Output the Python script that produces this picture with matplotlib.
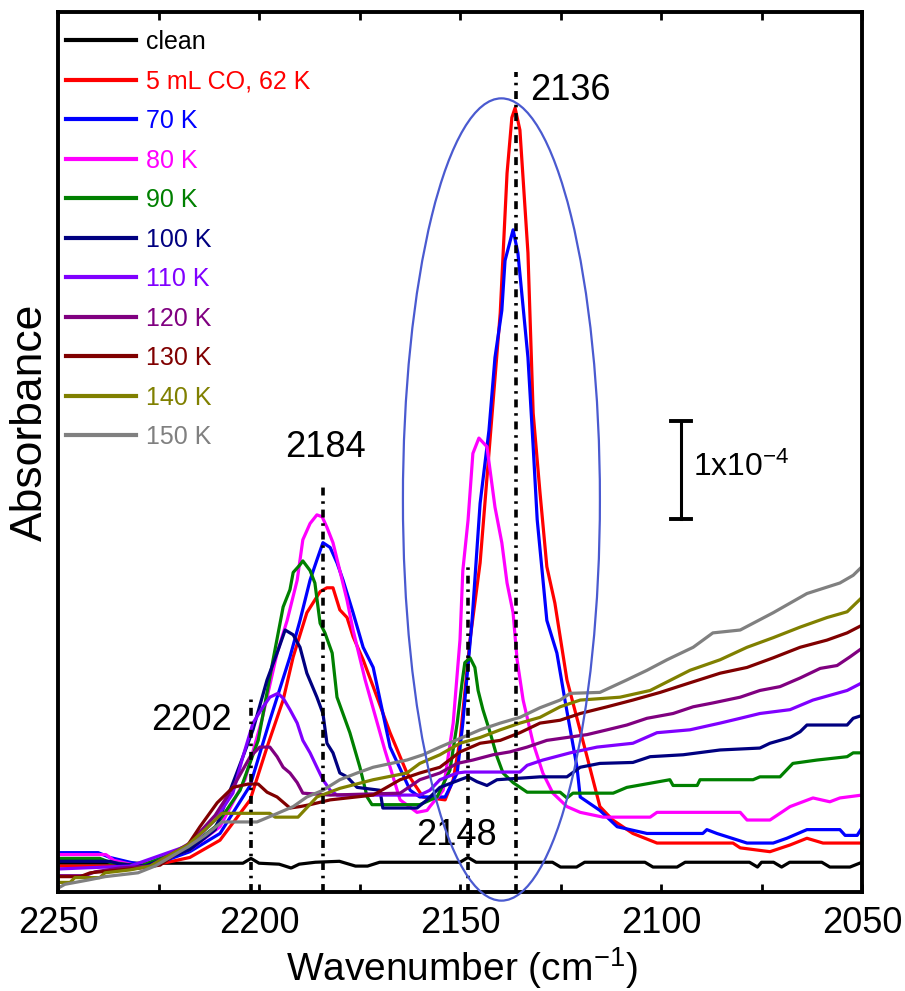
import numpy as np
import matplotlib.pyplot as plt
from matplotlib.patches import Ellipse

plt.rcParams['font.family'] = ['Liberation Sans', 'DejaVu Sans']
plt.rcParams['mathtext.default'] = 'regular'

# absorbance, in units of 1e-5 (offset is arbitrary)
wn_clean = [2250, 2204, 2202, 2200, 2195, 2192, 2190, 2186, 2180, 2176, 2173, 2170, 2150, 2148, 2146,
            2127, 2125, 2121, 2119, 2104, 2102, 2096, 2094, 2078, 2076, 2075, 2072, 2070, 2068, 2060,
            2058, 2053, 2050]
ab_clean = [3.0, 3.0, 3.5, 3.0, 2.9, 2.5, 2.9, 3.1, 3.2, 2.7, 2.7, 3.1, 3.1, 3.6, 3.1,
            3.1, 2.6, 2.6, 3.1, 3.1, 2.6, 2.6, 3.1, 3.1, 2.6, 3.1, 3.1, 2.6, 3.1, 3.1,
            2.6, 2.6, 3.1]

wn_62 = [2250, 2227.1, 2217.2, 2209.7, 2202.2, 2198.0, 2194.0, 2191.5, 2188.1, 2184.8, 2183.1, 2181.6,
         2179.9, 2178.1, 2176.6, 2174.1, 2171.6, 2167.4, 2163.2, 2159.2, 2153.7, 2151.7, 2150.0, 2147.5,
         2145.0, 2143.0, 2140.0, 2138.3, 2137.1, 2136.3, 2135.1, 2133.1, 2131.8, 2130.1, 2128.4, 2126.4,
         2123.4, 2118.4, 2115.2, 2112.0, 2107.0, 2101.0, 2082.1, 2080.3, 2072.9, 2067.9, 2063.7, 2059.7, 2050]
ab_62 = [2.7, 2.7, 3.6, 5.4, 9.6, 15.1, 20.0, 24.5, 29.1, 31.3, 31.7, 31.7,
         29.4, 28.6, 26.6, 24.2, 21.4, 16.6, 12.4, 9.9, 9.6, 11.7, 15.8, 26.3,
         34.3, 44.7, 60.3, 74.9, 80.7, 81.7, 79.4, 66.6, 49.9, 41.6, 33.9, 30.1,
         22.1, 14.1, 8.9, 7.5, 6.1, 5.1, 5.1, 4.6, 4.2, 4.9, 5.6, 5.1, 5.1]

wn_70 = [2250, 2240, 2237.1, 2232.1, 2227.1, 2217.2, 2209.7, 2202.2, 2197.3, 2192.3, 2189.8, 2187.3,
         2185.6, 2184.1, 2182.3, 2180.6, 2179.1, 2176.6, 2174.1, 2171.6, 2167.4, 2162.4, 2160, 2153.7,
         2150.7, 2149.3, 2147.0, 2145.0, 2142.8, 2141.3, 2139.6, 2138.8, 2136.8, 2135.6, 2133.1, 2131.8,
         2130.8, 2128.4, 2125.9, 2123.9, 2120.9, 2120.1, 2115.2, 2110.9, 2103.5, 2089.6, 2088.6, 2086.1,
         2078.6, 2072.1, 2068.7, 2063.7, 2055.5, 2054.2, 2051.2, 2050]
ab_70 = [4.1, 4.1, 3.6, 3.1, 2.7, 4.2, 6.1, 11.1, 17.9, 24.5, 28.3, 32.5,
         34.6, 36.4, 35.9, 34.3, 32.5, 29.1, 25.5, 23.4, 15.1, 10.6, 9.9, 9.9,
         12.4, 17.6, 28.3, 40.5, 48.1, 55.7, 60.6, 65.8, 69.0, 66.6, 55.7, 46.4,
         38.8, 28.3, 24.9, 20.0, 13.0, 9.9, 8.5, 6.8, 6.1, 6.1, 6.5, 6.1,
         5.1, 5.1, 5.6, 6.5, 6.5, 5.9, 5.9, 6.7]

wn_80 = [2250, 2238.1, 2236.1, 2230, 2217.2, 2209.7, 2203.5, 2199.3, 2195.5, 2193.0, 2190.5, 2189.1,
         2187.3, 2185.6, 2184.3, 2183.1, 2181.6, 2179.9, 2178.1, 2176.6, 2173.6, 2168.7, 2164.9, 2160.7,
         2158.2, 2157.5, 2154.2, 2151.7, 2150, 2149.3, 2148.0, 2146.8, 2145.3, 2143.3, 2141.3, 2139.6,
         2138.3, 2136.8, 2135.8, 2134.3, 2131.8, 2129.4, 2126.9, 2123.4, 2120.1, 2114.4, 2102.7, 2101.0,
         2080.3, 2078.6, 2072.9, 2071.1, 2067.9, 2062.2, 2058.0, 2055.5, 2050]
ab_80 = [3.9, 3.9, 3.3, 2.7, 4.4, 6.8, 11.7, 17.9, 24.9, 28.3, 32.5, 36.7,
         38.4, 39.3, 39.1, 38.0, 36.4, 33.5, 30.4, 27.3, 22.1, 14.8, 9.6, 8.3,
         8.5, 8.9, 10.6, 17.6, 26.3, 33.5, 38.75, 45.7, 47.3, 46.4, 40.1, 36.4,
         32.2, 29.1, 24.2, 20.0, 15.5, 12.4, 10.3, 8.9, 8.3, 7.8, 7.8, 8.3,
         8.3, 7.5, 7.5, 8.0, 8.9, 9.8, 9.4, 9.8, 10.1]

wn_90 = [2250, 2239.6, 2237.1, 2229.6, 2217.2, 2210.9, 2204.7, 2200.2, 2196.5, 2194.0, 2192.3, 2191.5,
         2189.8, 2189.1, 2187.3, 2186.1, 2184.8, 2183.6, 2181.8, 2180.6, 2177.4, 2174.9, 2173.1, 2171.9,
         2160, 2155.7, 2152.5, 2150.7, 2149.5, 2148.8, 2147.5, 2146.3, 2145.5, 2144.3, 2142.5, 2140.8,
         2139.3, 2136.8, 2133.3, 2125.1, 2123.4, 2121.9, 2111.9, 2108.5, 2097.8, 2097.0, 2091.0, 2090.3,
         2077.1, 2075.4, 2070.4, 2067.2, 2061.2, 2053.7, 2052.2, 2050]
ab_90 = [3.5, 3.5, 3.1, 2.7, 4.7, 6.8, 10.6, 15.8, 24.2, 29.7, 31.5, 33.3,
         34.1, 34.5, 33.5, 32.2, 28.0, 27.0, 24.9, 20.3, 16.6, 13.0, 9.9, 9.1,
         9.1, 9.9, 12.7, 17.6, 21.8, 23.9, 24.4, 23.4, 21.0, 19.0, 16.6, 14.1,
         12.4, 11.4, 10.4, 10.4, 9.8, 10.3, 10.3, 10.9, 11.7, 11.1, 11.1, 11.7,
         11.7, 12.0, 12.0, 13.4, 13.75, 14.1, 14.5, 14.5]

wn_100 = [2250, 2237.1, 2234.6, 2228.4, 2217.2, 2210.9, 2204.0, 2201.5, 2198.0, 2195.5, 2193.5, 2191.5,
          2189.8, 2188.1, 2185.6, 2184.1, 2183.1, 2181.6, 2179.9, 2178.1, 2175.6, 2169.9, 2169.2, 2160.7,
          2158.2, 2155.0, 2150, 2148.0, 2145.8, 2143.3, 2140.8, 2130.1, 2123.4, 2120.1, 2115.2, 2107.0,
          2102.7, 2094.5, 2085.3, 2075.4, 2072.9, 2067.9, 2065.4, 2063.7, 2053.7, 2052.2, 2050]
ab_100 = [3.2, 3.2, 2.9, 2.7, 4.4, 6.5, 14.1, 16.9, 22.1, 24.9, 27.3, 26.8,
          25.5, 22.8, 20.3, 18.6, 15.5, 14.5, 12.4, 12.0, 10.9, 10.6, 8.75, 8.75,
          9.6, 10.9, 11.7, 12.0, 11.5, 11.1, 11.7, 12.0, 12.0, 13.0, 13.4, 13.5,
          14.1, 14.3, 14.8, 15.0, 15.5, 16.1, 16.7, 17.4, 17.4, 18.1, 18.4]

wn_110 = [2250, 2232.1, 2217.2, 2210.9, 2206.5, 2204.0, 2201.5, 2199.0, 2197.3, 2195.3, 2194.0, 2192.3,
          2190.5, 2189.1, 2187.3, 2185.6, 2184.1, 2182.3, 2180.6, 2160, 2157.5, 2155.0, 2150.7, 2148.8,
          2135.1, 2133.3, 2129.4, 2122.6, 2115.9, 2107.0, 2101.0, 2092.8, 2085.3, 2080.3, 2075.4, 2067.9,
          2062.2, 2053.7, 2050]
ab_110 = [2.4, 2.7, 4.9, 7.5, 10.3, 14.1, 17.6, 19.3, 20.3, 20.7, 20.2, 19.0,
          17.6, 15.8, 14.5, 13.0, 11.7, 10.6, 10.1, 10.1, 10.6, 11.7, 12.4, 12.5,
          12.5, 13.2, 13.75, 14.5, 15.1, 15.5, 16.6, 16.9, 17.6, 18.1, 18.6, 19.0,
          20.0, 21.0, 21.8]

wn_120 = [2250, 2243.3, 2240.8, 2234.6, 2227.1, 2217.2, 2210.9, 2206.5, 2202.2, 2199.8, 2197.3, 2195.5,
          2194.0, 2192.3, 2190.5, 2189.1, 2182.3, 2164.9, 2160, 2155.0, 2150.7, 2146.8, 2141.8, 2137.6,
          2133.3, 2128.4, 2123.4, 2118.4, 2113.4, 2108.5, 2103.5, 2097.0, 2092.0, 2087.1, 2080.3, 2075.4,
          2070.4, 2065.4, 2060.4, 2056.2, 2053.0, 2050]
ab_120 = [1.7, 1.7, 2.1, 2.5, 2.7, 5.1, 8.0, 10.9, 14.1, 15.1, 15.1, 14.1,
          13.0, 12.4, 11.4, 10.3, 10.1, 10.3, 11.7, 12.4, 13.4, 13.75, 14.3, 14.6,
          15.1, 15.8, 16.1, 16.4, 16.9, 17.4, 18.1, 18.6, 19.3, 19.7, 20.3, 21.0,
          21.4, 22.3, 23.3, 23.6, 24.5, 25.4]

wn_130 = [2250, 2244.5, 2242.0, 2234.6, 2229.6, 2224.6, 2217.7, 2214.7, 2210.4, 2206.5, 2202.7, 2200.2,
          2198.0, 2195.5, 2192.3, 2189.8, 2187.3, 2182.3, 2171.6, 2164.9, 2160, 2155.0, 2150, 2145.0,
          2140.0, 2135.1, 2130.1, 2125.1, 2120.1, 2113.4, 2107.0, 2100.2, 2092.8, 2085.3, 2078.6, 2072.1,
          2065.4, 2058.7, 2053.7, 2050]
ab_130 = [1.6, 1.6, 2.0, 2.3, 2.5, 2.8, 4.9, 6.8, 9.3, 10.9, 11.25, 11.25,
          10.4, 9.9, 8.75, 8.9, 9.1, 9.6, 10.1, 11.7, 12.4, 13.0, 14.6, 15.5,
          15.8, 16.6, 17.6, 17.9, 18.6, 19.3, 20.0, 20.8, 21.8, 22.8, 23.4, 24.4,
          25.5, 26.25, 27.0, 27.8]

wn_140 = [2250, 2247.0, 2245.8, 2239.6, 2238.3, 2232.1, 2227.1, 2217.7, 2213.4, 2209.2, 2197.3, 2196.0,
          2190.3, 2185.6, 2179.9, 2171.6, 2163.2, 2160, 2155.0, 2150, 2145.0, 2140.0, 2135.1, 2130.1,
          2125.1, 2120.1, 2110.2, 2102.7, 2092.8, 2085.3, 2078.6, 2072.1, 2065.4, 2058.7, 2053.7, 2050]
ab_140 = [1.0, 1.0, 1.5, 1.5, 2.0, 2.3, 2.7, 4.9, 6.5, 8.2, 8.2, 7.8,
          7.8, 9.9, 10.8, 11.7, 12.4, 13.4, 14.3, 15.5, 16.1, 16.9, 17.6, 18.2,
          19.3, 20.0, 20.3, 21.0, 23.1, 24.2, 25.5, 26.5, 27.6, 28.6, 29.2, 30.7]

wn_150 = [2250, 2248.3, 2242.5, 2238.3, 2230.1, 2225.9, 2217.7, 2213.4, 2209.2, 2200.5, 2196.5, 2191.5,
          2188.1, 2184.1, 2179.9, 2175.6, 2171.6, 2163.2, 2159.2, 2155.0, 2150, 2145.0, 2140.0, 2135.1,
          2130.1, 2125.1, 2122.6, 2115.2, 2108.5, 2103.5, 2098.5, 2092.0, 2087.1, 2080.3, 2072.1, 2063.7,
          2055.5, 2052.2, 2050]
ab_150 = [0.4, 0.8, 1.25, 1.6, 2.0, 2.7, 4.7, 5.9, 7.3, 7.3, 8.0, 8.9,
          9.9, 10.6, 11.7, 12.4, 13.0, 13.75, 14.3, 15.1, 16.0, 16.9, 17.6, 18.2,
          19.2, 20.0, 20.7, 20.8, 22.1, 23.1, 24.2, 25.5, 27.0, 27.3, 29.1, 31.1,
          32.2, 33.0, 33.9]

labels = ['clean', '5 mL CO, 62 K', '70 K', '80 K', '90 K', '100 K', '110 K', '120 K', '130 K', '140 K', '150 K']
colors = ['#000000', '#ff0000', '#0000ff', '#ff00ff', '#008000', '#000080', '#8000ff', '#800080', '#800000', '#808000', '#808080']
wns = [wn_clean, wn_62, wn_70, wn_80, wn_90, wn_100, wn_110, wn_120, wn_130, wn_140, wn_150]
abs_ = [ab_clean, ab_62, ab_70, ab_80, ab_90, ab_100, ab_110, ab_120, ab_130, ab_140, ab_150]

peaks = [2202, 2184, 2148, 2136]
peak_tops = [20.3, 42.6, 34.3, 85.4]

fig = plt.figure(figsize=(9.05, 9.91), dpi=100)
ax = fig.add_axes([0.0641, 0.0999, 0.8884, 0.888])

for wn, ab, c, lab in zip(wns, abs_, colors, labels):
    ax.plot(wn, ab, color=c, lw=2.3, label=lab)

# dotted markers at band positions
for p, t in zip(peaks, peak_tops):
    ax.plot([p, p], [0, t], color='k', lw=2.6, ls=(0, (2.2, 1.6, 0.7, 1.6)), zorder=5)

ax.text(2132.6, 83.5, '2136', fontsize=26, ha='left', va='center')
ax.text(2183.6, 46.3, '2184', fontsize=26, ha='center', va='center')
ax.text(2206.7, 17.9, '2202', fontsize=26, ha='right', va='center')
ax.text(2151.0, 5.9, '2148', fontsize=26, ha='center', va='center')

ax.add_patch(Ellipse((2139.7, 40.9), 49, 83.6, fill=False, ec='#4a5ad0', lw=1.6, clip_on=False, zorder=6))

# scale bar 1e-4
sx, y0, y1 = 2095.0, 38.85, 49.06
ax.plot([sx, sx], [y0, y1], color='k', lw=2.2)
ax.plot([sx - 2.4, sx + 2.4], [y0, y0], color='k', lw=2.8)
ax.plot([sx - 2.4, sx + 2.4], [y1, y1], color='k', lw=2.8)
ax.text(2092.0, 44.2, '1x10$^{-4}$', fontsize=23, ha='left', va='center')

ax.set_xlim(2250, 2050)
ax.set_ylim(0, 91.7)
ax.set_xticks([2250, 2200, 2150, 2100, 2050])
ax.set_xticks(np.arange(2250, 2049, -25), minor=True)
ax.set_yticks([])
ax.tick_params(axis='x', which='both', direction='in', top=True, length=6, width=2, labelsize=26, pad=10)
for s in ax.spines.values():
    s.set_linewidth(2.8)

fig.text(462 / 905, 1 - 968 / 991, 'Wavenumber (cm$^{-1}$)', fontsize=28, ha='center', va='center')
fig.text(30 / 905, 1 - 422 / 991, 'Absorbance', fontsize=32, rotation=90, ha='center', va='center')

leg = ax.legend(loc='upper left', bbox_to_anchor=(0.004, 0.985), frameon=False, fontsize=18,
                handlelength=2.8, handletextpad=0.4, labelspacing=0.62, borderaxespad=0,
                borderpad=0.2, labelcolor='linecolor')
for h in leg.get_lines():
    h.set_linewidth(3)

fig.savefig('out.png', dpi=100)
